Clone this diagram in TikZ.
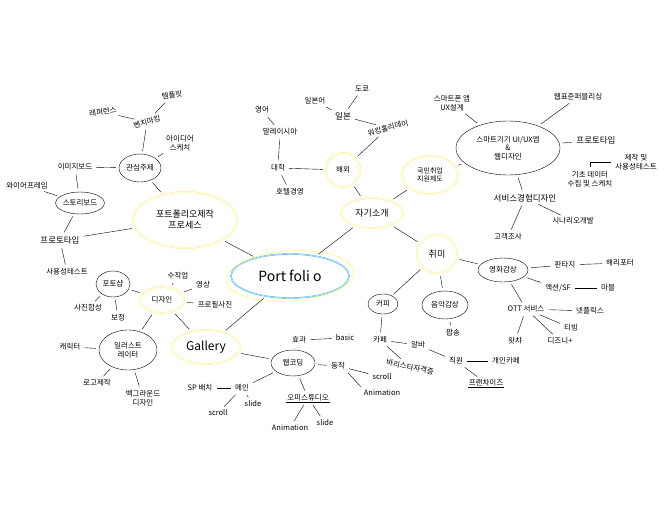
\documentclass[tikz,border=0pt]{standalone}
\usepackage{fontspec}
\setmainfont{Noto Sans CJK KR}
\usetikzlibrary{shapes.geometric}

\begin{document}
\begin{tikzpicture}[
  x=1pt, y=-1pt,
  font=\fontsize{7.5}{8.5}\selectfont,
  lb/.style={inner sep=1pt, align=center},
  bub/.style={lb, draw, ellipse, inner sep=0pt, thin},
  ybub/.style={lb, draw=yellow!80!orange!45, ellipse, inner sep=1pt,
               double=white, double distance=0.8pt, line width=0.5pt},
  link/.style={thin, shorten <=3pt, shorten >=3pt}]

  \useasboundingbox (0,0) rectangle (670,520);

  % centre
  \node[lb, draw=cyan!80!blue!70, ellipse, double=cyan!25, double distance=0.6pt,
        minimum width=118pt, minimum height=44pt,
        font=\fontsize{14}{16}\selectfont] (port) at (290,276) {Port foli o};
  \draw[yellow!70, thin] (290,276) ellipse [x radius=64, y radius=25, rotate=4];

  % portfolio process
  \node[ybub, minimum width=104pt, minimum height=56pt,
        font=\fontsize{9}{11}\selectfont] (proc) at (185,220) {포트폴리오제작\\프로세스};
  \node[bub, minimum width=42pt, minimum height=28pt] (gwan) at (140,168) {관심주제};
  \node[lb, rotate=15] (bench) at (147,122) {벤치마킹};
  \node[lb, rotate=8] (ref) at (103,112) {레퍼런스};
  \node[lb, rotate=10] (tmpl) at (172,95) {템플릿};
  \node[lb] (idea) at (180,143) {아이디어\\스케치};
  \node[lb] (imgb) at (75,167) {이미지보드};
  \node[bub, minimum width=46pt, minimum height=22pt] (story) at (80,203) {스토리보드};
  \node[lb] (wire) at (27,186) {와이어프레임};
  \node[lb, font=\fontsize{8.5}{10}\selectfont] (proto) at (60,240) {프로토타입};
  \node[lb] (usab) at (67,272) {사용성테스트};

  % self introduction
  \node[ybub, minimum width=62pt, minimum height=30pt,
        font=\fontsize{9}{11}\selectfont] (self) at (372,213) {자기소개};
  \node[ybub, minimum width=34pt, minimum height=34pt] (abroad) at (343,170) {해외};
  \node[lb] (univ) at (278,168) {대학};
  \node[lb] (hotel) at (290,192) {호텔경영};
  \node[lb] (malay) at (280,132) {말레이시아};
  \node[lb] (eng) at (262,110) {영어};
  \node[lb, font=\fontsize{8.5}{10}\selectfont] (japan) at (343,116) {일본};
  \node[lb] (jpn) at (315,101) {일본어};
  \node[lb] (tokyo) at (362,89) {도쿄};
  \node[lb, rotate=15] (whol) at (388,128) {워킹홀리데이};
  \node[ybub, minimum width=56pt, minimum height=38pt,
        font=\fontsize{7}{8}\selectfont] (kmin) at (430,175) {국민취업\\지원제도};
  \node[bub, minimum width=104pt, minimum height=54pt] (smart) at (508,148)
    {스마트기기 UI/UX앱\\\&\\웹디자인};
  \node[lb] (appux) at (452,103) {스마트폰 앱\\UX설계};
  \node[lb] (webstd) at (578,97) {웹표준퍼블리싱};
  \node[lb, font=\fontsize{8.5}{10}\selectfont] (proto2) at (596,140) {프로토타입};
  \node[lb] (test2) at (636,162) {제작 및\\사용성테스트};
  \node[lb] (basicd) at (590,179) {기초 데이터\\수집 및 스케치};
  \node[lb, font=\fontsize{8.5}{10}\selectfont] (svc) at (525,198) {서비스경험디자인};
  \node[lb] (scen) at (573,221) {시나리오개발};
  \node[lb] (cust) at (508,237) {고객조사};

  % hobby
  \node[ybub, minimum width=40pt, minimum height=38pt,
        font=\fontsize{9}{11}\selectfont] (hobby) at (437,254) {취미};
  \node[bub, minimum width=50pt, minimum height=24pt] (movie) at (503,270) {영화감상};
  \node[lb] (fant) at (565,265) {판타지};
  \node[lb] (harry) at (620,263) {해리포터};
  \node[lb] (action) at (558,288) {액션/SF};
  \node[lb] (marvel) at (608,288) {마블};
  \node[lb] (ott) at (526,309) {OTT 서비스};
  \node[lb] (netf) at (590,311) {넷플릭스};
  \node[lb] (tving) at (571,328) {티빙};
  \node[lb] (disney) at (560,341) {디즈니+};
  \node[lb] (watcha) at (515,341) {왓챠};
  \node[bub, minimum width=46pt, minimum height=28pt] (music) at (445,305) {음악감상};
  \node[lb] (pop) at (453,333) {팝송};
  \node[bub, minimum width=30pt, minimum height=20pt] (coffee) at (383,304) {커피};
  \node[lb] (cafe) at (380,340) {카페};
  \node[lb] (alba) at (418,345) {알바};
  \node[lb, rotate=-12] (barista) at (410,367) {바리스타자격증};
  \node[lb] (staff) at (456,361) {직원};
  \node[lb] (indie) at (506,361) {개인카페};
  \node[lb] (fran) at (486,383) {프랜차이즈};
  \draw[thin] (fran.south west) -- (fran.south east);

  % gallery
  \node[ybub, minimum width=68pt, minimum height=34pt,
        font=\fontsize{12}{14}\selectfont] (gallery) at (206,347) {Gallery};
  \node[ybub, minimum width=44pt, minimum height=26pt] (design) at (162,300) {디자인};
  \node[lb] (hand) at (178,276) {수작업};
  \node[lb] (video) at (203,285) {영상};
  \node[lb] (profile) at (215,305) {프로필사진};
  \node[bub, minimum width=34pt, minimum height=26pt] (ps) at (113,284) {포토샵};
  \node[lb] (comp) at (88,308) {사진합성};
  \node[lb] (retouch) at (118,318) {보정};
  \node[bub, minimum width=58pt, minimum height=40pt] (illu) at (128,350) {일러스트\\레이터};
  \node[lb] (chara) at (70,347) {캐릭터};
  \node[lb] (logo) at (97,383) {로고제작};
  \node[lb] (bg) at (143,398) {백그라운드\\디자인};
  \node[bub, minimum width=44pt, minimum height=26pt] (code) at (293,363) {웹코딩};
  \node[lb] (effect) at (299,340) {효과};
  \node[lb] (basic) at (345,338) {basic};
  \node[lb] (motion) at (338,366) {동작};
  \node[lb] (scroll1) at (382,377) {scroll};
  \node[lb] (anim1) at (382,393) {Animation};
  \node[lb] (main) at (242,388) {메인};
  \node[lb] (sp) at (200,388) {SP 배치};
  \node[lb] (scroll2) at (218,413) {scroll};
  \node[lb] (slide1) at (253,404) {slide};
  \node[lb] (office) at (308,398) {오피스튜디오};
  \draw[thin] (office.south west) -- (office.south east);
  \node[lb] (anim2) at (290,428) {Animation};
  \node[lb] (slide2) at (325,423) {slide};

  % connectors
  \draw[link] (port) -- (proc);
  \draw[link] (port) -- (self);
  \draw[link] (port) -- (gallery);
  \draw[link] (proc) -- (gwan);
  \draw[link] (proc) -- (proto);
  \draw[link] (gwan) -- (bench);
  \draw[link] (gwan) -- (idea);
  \draw[link] (gwan) -- (imgb);
  \draw[link] (bench) -- (ref);
  \draw[link] (bench) -- (tmpl);
  \draw[link] (imgb) -- (story);
  \draw[link] (story) -- (wire);
  \draw[link] (story) -- (proto);
  \draw[link] (proto) -- (usab);

  \draw[link] (self) -- (abroad);
  \draw[link] (self) -- (kmin);
  \draw[link] (self) -- (hobby);
  \draw[link] (abroad) -- (univ);
  \draw[link] (abroad) -- (whol);
  \draw[link] (univ) -- (malay);
  \draw[link] (univ) -- (hotel);
  \draw[link] (malay) -- (eng);
  \draw[link] (whol) -- (japan);
  \draw[link] (japan) -- (jpn);
  \draw[link] (japan) -- (tokyo);
  \draw[link] (kmin) -- (smart);
  \draw[link] (smart) -- (appux);
  \draw[link] (smart) -- (webstd);
  \draw[link] (smart) -- (proto2);
  \draw[link] (smart) -- (svc);
  \draw[link] (basicd.north) |- (test2.west);
  \draw[link] (svc) -- (scen);
  \draw[link] (svc) -- (cust);

  \draw[link] (hobby) -- (movie);
  \draw[link] (hobby) -- (music);
  \draw[link] (hobby) -- (coffee);
  \draw[link] (movie) -- (fant);
  \draw[link] (movie) -- (action);
  \draw[link] (movie) -- (ott);
  \draw[link] (fant) -- (harry);
  \draw[link] (action) -- (marvel);
  \draw[link] (ott) -- (netf);
  \draw[link] (ott) -- (tving);
  \draw[link] (ott) -- (disney);
  \draw[link] (ott) -- (watcha);
  \draw[link] (music) -- (pop);
  \draw[link] (coffee) -- (cafe);
  \draw[link] (cafe) -- (alba);
  \draw[link] (cafe) -- (barista);
  \draw[link] (alba) -- (staff);
  \draw[link] (staff) -- (indie);
  \draw[link] (staff) -- (fran);

  \draw[link] (gallery) -- (design);
  \draw[link] (gallery) -- (code);
  \draw[link] (design) -- (hand);
  \draw[link] (design) -- (video);
  \draw[link] (design) -- (profile);
  \draw[link] (design) -- (ps);
  \draw[link] (design) -- (illu);
  \draw[link] (ps) -- (comp);
  \draw[link] (ps) -- (retouch);
  \draw[link] (illu) -- (chara);
  \draw[link] (illu) -- (logo);
  \draw[link] (illu) -- (bg);
  \draw[link] (code) -- (effect);
  \draw[link] (code) -- (motion);
  \draw[link] (code) -- (main);
  \draw[link] (code) -- (office);
  \draw[link] (effect) -- (basic);
  \draw[link] (motion) -- (scroll1);
  \draw[link] (anim1.north west) -- (motion.south east);
  \draw[link] (main) -- (sp);
  \draw[link] (main) -- (scroll2);
  \draw[link] (main) -- (slide1);
  \draw[link] (office) -- (anim2);
  \draw[link] (office) -- (slide2);
\end{tikzpicture}
\end{document}
